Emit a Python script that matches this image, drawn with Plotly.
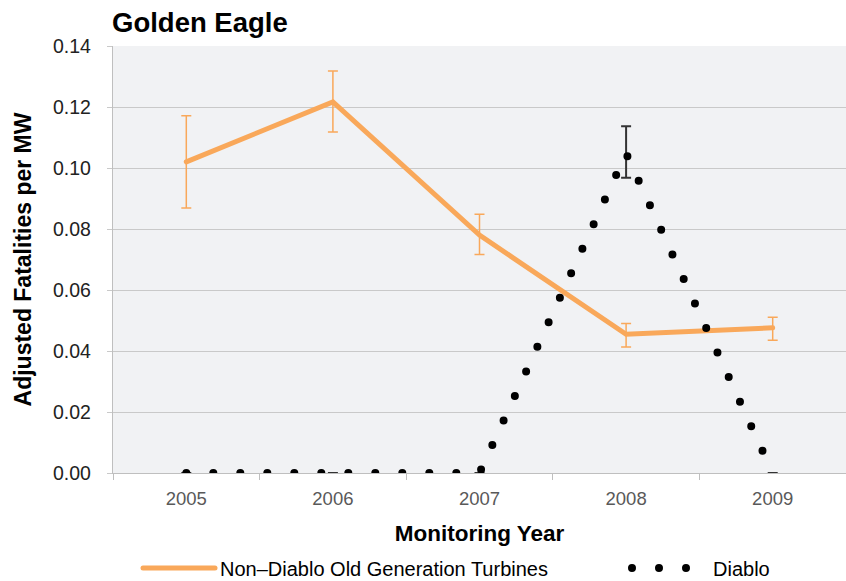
import plotly.graph_objects as go

years = ["2005", "2006", "2007", "2008", "2009"]

non_diablo = [0.1020, 0.1217, 0.0780, 0.0455, 0.0476]
non_diablo_err_plus = [0.0151, 0.0101, 0.0068, 0.0035, 0.0035]
non_diablo_err_minus = [0.0151, 0.0099, 0.0064, 0.0042, 0.0041]

diablo = [0.0, 0.0, 0.0, 0.1048, 0.0]
diablo_err_plus = [0.0, 0.0, 0.0, 0.0089, 0.0]
diablo_err_minus = [0.0, 0.0, 0.0, 0.0080, 0.0]

y_ticks = [0.00, 0.02, 0.04, 0.06, 0.08, 0.10, 0.12, 0.14]

ORANGE = "#F9A85A"
FONT = "Liberation Sans, Arial, sans-serif"

fig = go.Figure()

fig.add_trace(go.Scatter(
    x=years, y=non_diablo, mode="lines",
    name="Non\u2013Diablo Old Generation Turbines",
    line=dict(color=ORANGE, width=5),
    error_y=dict(type="data", symmetric=False, array=non_diablo_err_plus,
                 arrayminus=non_diablo_err_minus, color=ORANGE, thickness=1.5, width=5),
    legend="legend", showlegend=True,
))

fig.add_trace(go.Scatter(
    x=years, y=diablo, mode="lines",
    name="Diablo",
    line=dict(color="#000000", width=8, dash="0px,27px"),
    error_y=dict(type="data", symmetric=False, array=diablo_err_plus,
                 arrayminus=diablo_err_minus, color="#333333", thickness=2, width=5),
    legend="legend2", showlegend=True,
))

L, R, T, B = 113, 0, 46, 108
W, H = 846, 581
pw = W - L - R
ph = H - T - B

def px_x(px):
    return (px - L) / pw

def px_y(py):
    return (H - B - py) / ph

fig.update_layout(
    width=W, height=H,
    showlegend=True,
    margin=dict(l=L, r=R, t=T, b=B, pad=0, autoexpand=False),
    paper_bgcolor="white",
    plot_bgcolor="#F1F2F4",
    font=dict(family=FONT, color="#222222"),
    title=dict(text="<b>Golden Eagle</b>", font=dict(size=27.5, color="#000000", family=FONT),
               x=112 / W, xanchor="left", xref="container",
               y=1 - 22 / H, yanchor="middle", yref="container"),
    xaxis=dict(
        type="category", range=[-0.5, 4.5],
        showgrid=False, showline=True, linecolor="#BFBFBF", linewidth=1.3,
        ticks="outside", tickson="boundaries", ticklen=6, tickcolor="#BFBFBF", tickwidth=1.3,
        tickfont=dict(size=18.5, color="#595959", family=FONT),
        ticklabelstandoff=9,
        title=dict(text="<b>Monitoring Year</b>", font=dict(size=22.5, color="#000000", family=FONT),
                   standoff=16),
        automargin=False,
    ),
    yaxis=dict(
        range=[0, 0.14], tickvals=y_ticks, tickformat=".2f",
        showgrid=True, gridcolor="#C9C9C9", gridwidth=1.3,
        zeroline=False, showline=True, linecolor="#BFBFBF", linewidth=1.3,
        ticks="outside", ticklen=5, tickcolor="#C9C9C9", tickwidth=1.3,
        tickfont=dict(size=19.5, color="#222222", family=FONT),
        ticklabelstandoff=12,
        title=dict(text="<b>Adjusted Fatalities per MW</b>", font=dict(size=23, color="#000000", family=FONT),
                   standoff=14),
        automargin=False,
    ),
    legend=dict(
        orientation="h", x=px_x(138), y=px_y(568), xanchor="left", yanchor="middle",
        itemwidth=72,
        font=dict(size=20, color="#000000", family=FONT), bgcolor="rgba(0,0,0,0)",
    ),
    legend2=dict(
        orientation="h", x=px_x(627), y=px_y(568), xanchor="left", yanchor="middle",
        itemwidth=76,
        font=dict(size=20, color="#000000", family=FONT), bgcolor="rgba(0,0,0,0)",
    ),
)

post = """
var st = document.createElement('style');
st.textContent = 'html, body { margin: 0 !important; padding: 0 !important; overflow: hidden !important; }'
  + ' path.js-line, .legendlines path { stroke-linecap: round; }';
document.head.appendChild(st);
"""

fig.write_html("out.html", post_script=post, config={"displayModeBar": False})
